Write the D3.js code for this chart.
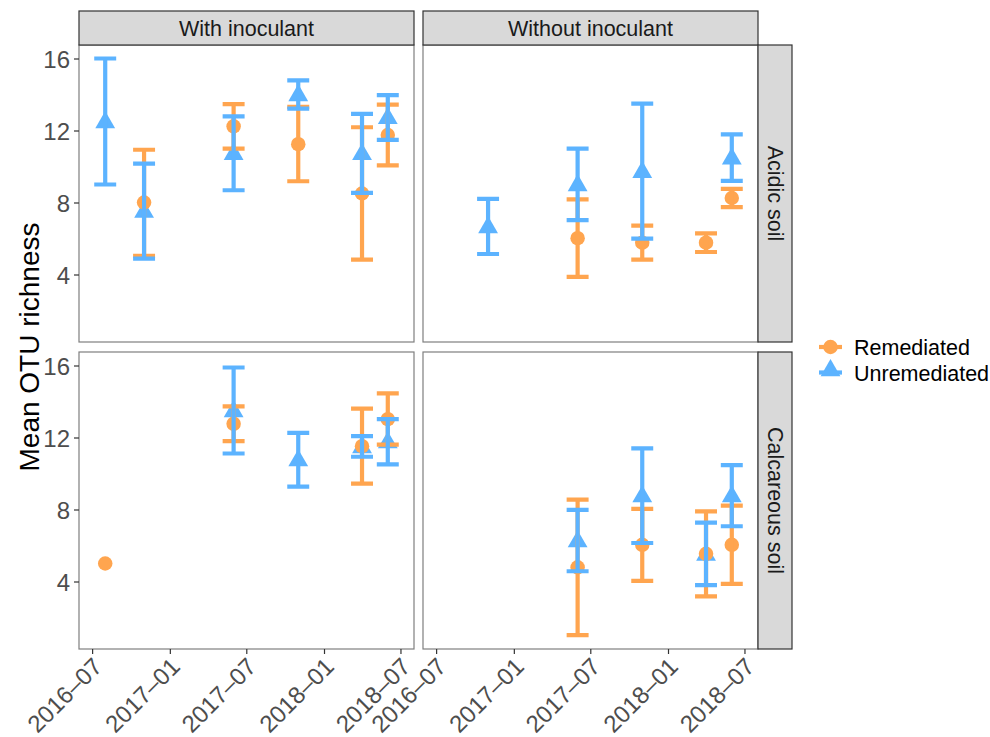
<!DOCTYPE html>
<html>
<head>
<meta charset="utf-8">
<script src="https://cdn.jsdelivr.net/npm/d3@7"></script>
<style>
  body { margin: 0; background: #fff; }
  text { font-family: "Liberation Sans", Arial, sans-serif; }
</style>
</head>
<body>
<div id="chart"></div>
<script>
'use strict';

// ---------- Data ---------- //
var dates = ['2016-08-01', '2016-11-01', '2017-06-01', '2017-11-01', '2018-04-01', '2018-06-01'];
var columns = ['With inoculant', 'Without inoculant'];
var rows = ['Acidic soil', 'Calcareous soil'];
var groups = ['Remediated', 'Unremediated'];
var yTicks = [4, 8, 12, 16];
var xTicks = ['2016-07-01', '2017-01-01', '2017-07-01', '2018-01-01', '2018-07-01'];

// acidic soil, with inoculant
var acidWithRemMean = [null, 8.0, 12.23, 11.24, 8.5, 11.75];
var acidWithRemLo   = [null, 5.03, 10.99, 9.18, 4.83, 10.06];
var acidWithRemHi   = [null, 10.93, 13.47, 13.31, 12.18, 13.44];
var acidWithUnrMean = [12.5, 7.52, 10.74, 14.0, 10.73, 12.73];
var acidWithUnrLo   = [9.0, 4.88, 8.68, 13.22, 8.53, 11.48];
var acidWithUnrHi   = [16.0, 10.16, 12.79, 14.78, 12.92, 13.97];

// acidic soil, without inoculant
var acidWithoutRemMean = [null, null, 6.02, 5.77, 5.77, 8.25];
var acidWithoutRemLo   = [null, null, 3.87, 4.83, 5.25, 7.74];
var acidWithoutRemHi   = [null, null, 8.17, 6.71, 6.29, 8.76];
var acidWithoutUnrMean = [null, 6.67, 9.0, 9.74, null, 10.49];
var acidWithoutUnrLo   = [null, 5.14, 7.02, 5.99, null, 9.2];
var acidWithoutUnrHi   = [null, 8.2, 10.99, 13.49, null, 11.78];

// calcareous soil, with inoculant
var calcWithRemMean = [5.0, null, 12.76, null, 11.52, 13.02];
var calcWithRemLo   = [null, null, 11.8, null, 9.44, 11.6];
var calcWithRemHi   = [null, null, 13.73, null, 13.6, 14.45];
var calcWithUnrMean = [null, null, 13.5, 10.77, 11.5, 11.77];
var calcWithUnrLo   = [null, null, 11.11, 9.27, 10.93, 10.51];
var calcWithUnrHi   = [null, null, 15.89, 12.26, 12.08, 13.02];

// calcareous soil, without inoculant
var calcWithoutRemMean = [null, null, 4.79, 6.04, 5.54, 6.04];
var calcWithoutRemLo   = [null, null, 1.02, 4.04, 3.17, 3.87];
var calcWithoutRemHi   = [null, null, 8.55, 8.03, 7.9, 8.21];
var calcWithoutUnrMean = [null, null, 6.27, 8.77, 5.53, 8.77];
var calcWithoutUnrLo   = [null, null, 4.57, 6.14, 3.8, 7.07];
var calcWithoutUnrHi   = [null, null, 7.98, 11.4, 7.27, 10.47];

var panelData = [
  [ // Acidic
    { rem: [acidWithRemMean, acidWithRemLo, acidWithRemHi], unr: [acidWithUnrMean, acidWithUnrLo, acidWithUnrHi] },
    { rem: [acidWithoutRemMean, acidWithoutRemLo, acidWithoutRemHi], unr: [acidWithoutUnrMean, acidWithoutUnrLo, acidWithoutUnrHi] }
  ],
  [ // Calcareous
    { rem: [calcWithRemMean, calcWithRemLo, calcWithRemHi], unr: [calcWithUnrMean, calcWithUnrLo, calcWithUnrHi] },
    { rem: [calcWithoutRemMean, calcWithoutRemLo, calcWithoutRemHi], unr: [calcWithoutUnrMean, calcWithoutUnrLo, calcWithoutUnrHi] }
  ]
];

var colors = { Remediated: '#FFA54F', Unremediated: '#5CB3FF' };

// ---------- Layout ---------- //
var width = 990, height = 737;
var colX = [[79, 414], [423, 758]];
var rowY = [[45, 342], [352, 649]];
var stripTop = 11, stripRight = 792;
var capDays = 26;
var font = '"Liberation Sans", Arial, sans-serif';

var parse = d3.timeParse('%Y-%m-%d');
var dayMs = 864e5;
var dateObjs = dates.map(parse);
var dMin = +d3.min(dateObjs) - capDays * dayMs;
var dMax = +d3.max(dateObjs) + capDays * dayMs;
var pad = (dMax - dMin) * 0.05;

var svg = d3.select('#chart').append('svg')
  .attr('width', width)
  .attr('height', height);

function toRecords(arr, group) {
  return dates.map(function (d, i) {
    return { date: dateObjs[i], mean: arr[0][i], lo: arr[1][i], hi: arr[2][i], group: group };
  }).filter(function (r) { return r.mean !== null; });
}

var circle = d3.symbol().type(d3.symbolCircle).size(165);
var triangle = d3.symbol().type(d3.symbolTriangle).size(170);

rows.forEach(function (rowName, ri) {
  columns.forEach(function (colName, ci) {
    var x = d3.scaleTime()
      .domain([new Date(dMin - pad), new Date(dMax + pad)])
      .range(colX[ci]);
    var y = d3.scaleLinear()
      .domain([0.25, 16.75])
      .range([rowY[ri][1], rowY[ri][0]]);

    var g = svg.append('g');

    // panel background + border
    g.append('rect')
      .attr('x', colX[ci][0]).attr('y', rowY[ri][0])
      .attr('width', colX[ci][1] - colX[ci][0])
      .attr('height', rowY[ri][1] - rowY[ri][0])
      .attr('fill', '#fff')
      .attr('stroke', '#7f7f7f').attr('stroke-width', 1.2);

    var p = panelData[ri][ci];
    var rem = toRecords(p.rem, 'Remediated');
    var unr = toRecords(p.unr, 'Unremediated');

    // points
    g.selectAll('path.tri').data(unr).enter().append('path')
      .attr('class', 'tri')
      .attr('d', triangle)
      .attr('transform', function (d) { return 'translate(' + x(d.date) + ',' + (y(d.mean) + 1) + ')'; })
      .attr('fill', colors.Unremediated);
    g.selectAll('path.dot').data(rem).enter().append('path')
      .attr('class', 'dot')
      .attr('d', circle)
      .attr('transform', function (d) { return 'translate(' + x(d.date) + ',' + y(d.mean) + ')'; })
      .attr('fill', colors.Remediated);

    // error bars
    [rem, unr].forEach(function (recs) {
      var eb = g.selectAll(null)
        .data(recs.filter(function (d) { return d.lo !== null; }))
        .enter().append('g')
        .attr('stroke', function (d) { return colors[d.group]; })
        .attr('stroke-width', 4.2)
        .attr('fill', 'none');
      eb.append('path')
        .attr('d', function (d) {
          var x0 = x(new Date(+d.date - capDays * dayMs));
          var x1 = x(new Date(+d.date + capDays * dayMs));
          var xc = x(d.date);
          return 'M' + x0 + ',' + y(d.hi) + 'H' + x1 +
                 'M' + xc + ',' + y(d.hi) + 'V' + y(d.lo) +
                 'M' + x0 + ',' + y(d.lo) + 'H' + x1;
        });
    });

    // y axis on left column
    if (ci === 0) {
      var ya = g.append('g')
        .attr('transform', 'translate(' + colX[ci][0] + ',0)')
        .call(d3.axisLeft(y).tickValues(yTicks).tickSize(5).tickPadding(4).tickFormat(d3.format('d')));
      ya.select('.domain').remove();
      ya.selectAll('line').attr('stroke', '#333').attr('stroke-width', 1.2);
      ya.selectAll('text').attr('fill', '#4d4d4d')
        .style('font-size', '24px').style('font-family', font)
        .attr('dy', '0.36em');
    }

    // x axis on bottom row
    if (ri === 1) {
      var xa = g.append('g')
        .attr('transform', 'translate(0,' + rowY[ri][1] + ')')
        .call(d3.axisBottom(x).tickValues(xTicks.map(parse)).tickSize(5).tickFormat(d3.timeFormat('%Y\u2013%m')));
      xa.select('.domain').remove();
      xa.selectAll('line').attr('stroke', '#333').attr('stroke-width', 1.2);
      xa.selectAll('text')
        .attr('fill', '#4d4d4d')
        .style('font-size', '24px').style('font-family', font)
        .attr('text-anchor', 'end')
        .attr('dy', null).attr('y', 0)
        .attr('transform', 'translate(11,19) rotate(-45)');
    }

    // top strips
    if (ri === 0) {
      g.append('rect')
        .attr('x', colX[ci][0]).attr('y', stripTop)
        .attr('width', colX[ci][1] - colX[ci][0]).attr('height', rowY[0][0] - stripTop)
        .attr('fill', '#d9d9d9').attr('stroke', '#333').attr('stroke-width', 1.2);
      g.append('text')
        .attr('x', (colX[ci][0] + colX[ci][1]) / 2)
        .attr('y', (stripTop + rowY[0][0]) / 2 + 7.5)
        .attr('text-anchor', 'middle')
        .attr('fill', '#1a1a1a').style('font-size', '21.5px')
        .text(colName);
    }

    // right strips
    if (ci === 1) {
      g.append('rect')
        .attr('x', colX[1][1]).attr('y', rowY[ri][0])
        .attr('width', stripRight - colX[1][1]).attr('height', rowY[ri][1] - rowY[ri][0])
        .attr('fill', '#d9d9d9').attr('stroke', '#333').attr('stroke-width', 1.2);
      var cx = (colX[1][1] + stripRight) / 2, cy = (rowY[ri][0] + rowY[ri][1]) / 2;
      g.append('text')
        .attr('transform', 'translate(' + (cx - 7.5) + ',' + cy + ') rotate(90)')
        .attr('text-anchor', 'middle')
        .attr('fill', '#1a1a1a').style('font-size', '21.5px')
        .text(rowName);
    }
  });
});

// y axis title
svg.append('text')
  .attr('transform', 'translate(39,' + ((rowY[0][0] + rowY[1][1]) / 2) + ') rotate(-90)')
  .attr('text-anchor', 'middle')
  .attr('fill', '#000').style('font-size', '28px')
  .text('Mean OTU richness');

// legend
var legend = svg.append('g').attr('transform', 'translate(819,347)');
groups.forEach(function (grp, i) {
  var lg = legend.append('g').attr('transform', 'translate(0,' + (i * 25.5) + ')');
  lg.append('line')
    .attr('x1', 0).attr('x2', 23).attr('y1', 0).attr('y2', 0)
    .attr('stroke', colors[grp]).attr('stroke-width', 4.2);
  lg.append('path')
    .attr('d', i === 0 ? circle() : triangle())
    .attr('transform', 'translate(11.5,' + (i === 0 ? 0 : -2) + ')')
    .attr('fill', colors[grp]);
  lg.append('text')
    .attr('x', 35).attr('y', 8)
    .attr('fill', '#000').style('font-size', '21.5px')
    .text(grp);
});
</script>
</body>
</html>
